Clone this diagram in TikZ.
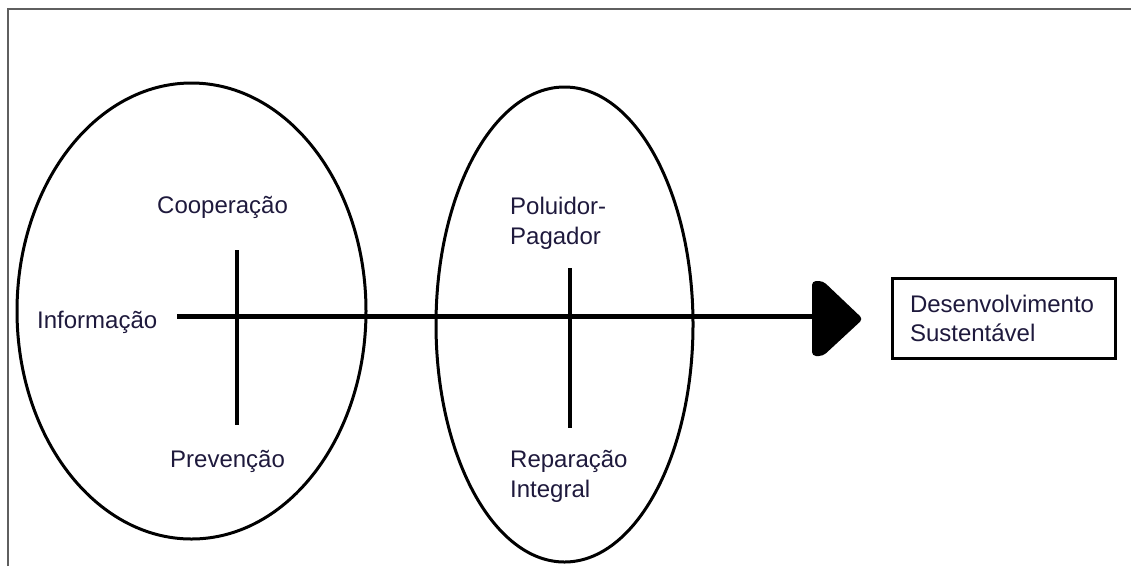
\documentclass[tikz,border=0pt]{standalone}
\usepackage{fontspec}
\setmainfont{Liberation Sans}
\usetikzlibrary{shapes.geometric}
\definecolor{txt}{RGB}{30,25,60}
\definecolor{framegray}{RGB}{95,95,95}
\tikzset{
  lbl/.style={font=\fontsize{24pt}{30pt}\selectfont, text=txt, inner sep=0pt},
  oval/.style={draw=black, line width=3pt, ellipse, inner sep=0pt},
  crossline/.style={draw=black, line width=4pt},
  shaft/.style={draw=black, line width=5pt},
  framel/.style={draw=framegray, line width=2.2pt},
  resbox/.style={draw=black, line width=3pt, minimum width=223pt, minimum height=80pt,
     text width=187pt, align=left, inner xsep=18pt, inner ysep=0pt,
     font=\fontsize{24pt}{29pt}\selectfont, text=txt}
}
\begin{document}
\begin{tikzpicture}[x=1pt,y=-1pt]
\useasboundingbox (0,0) rectangle (1131,566);
% frame
\coordinate (fb) at (8,566);
\coordinate (fc) at (8,9);
\coordinate (fr) at (1131,9);
\draw[framel] (fb) -- (fc) -- (fr);
% ellipses
\node[oval, minimum width=349pt, minimum height=456pt] (e1) at (191.5,311) {};
\node[oval, minimum width=257pt, minimum height=475pt] (e2) at (564.5,324.5) {};
% cross lines
\coordinate (v1t) at (237,250);
\coordinate (v1b) at (237,425);
\draw[crossline] (v1t) -- (v1b);
\coordinate (v2t) at (570,268);
\coordinate (v2b) at (570,428);
\draw[crossline] (v2t) -- (v2b);
% main arrow
\coordinate (as) at (177,316);
\coordinate (ah) at (814,316);
\draw[shaft] (as) -- (ah);
\fill[black, rounded corners=4pt] (812,281) -- (823,281) -- (863,319) -- (823,356) -- (812,356) -- cycle;
% labels
\node[lbl, anchor=base west] (coop) at (157,213) {Cooperação};
\node[lbl, anchor=base west] (info) at (37,328) {Informação};
\node[lbl, anchor=base west] (prev) at (170,467) {Prevenção};
\node[lbl, anchor=west, align=left] (polu) at (510,223) {Poluidor-\\Pagador};
\node[lbl, anchor=west, align=left] (repa) at (510,476) {Reparação\\Integral};
% result box
\node[resbox] (ds) at (1003.5,318) {Desenvolvimento\\Sustentável};
\end{tikzpicture}
\end{document}
